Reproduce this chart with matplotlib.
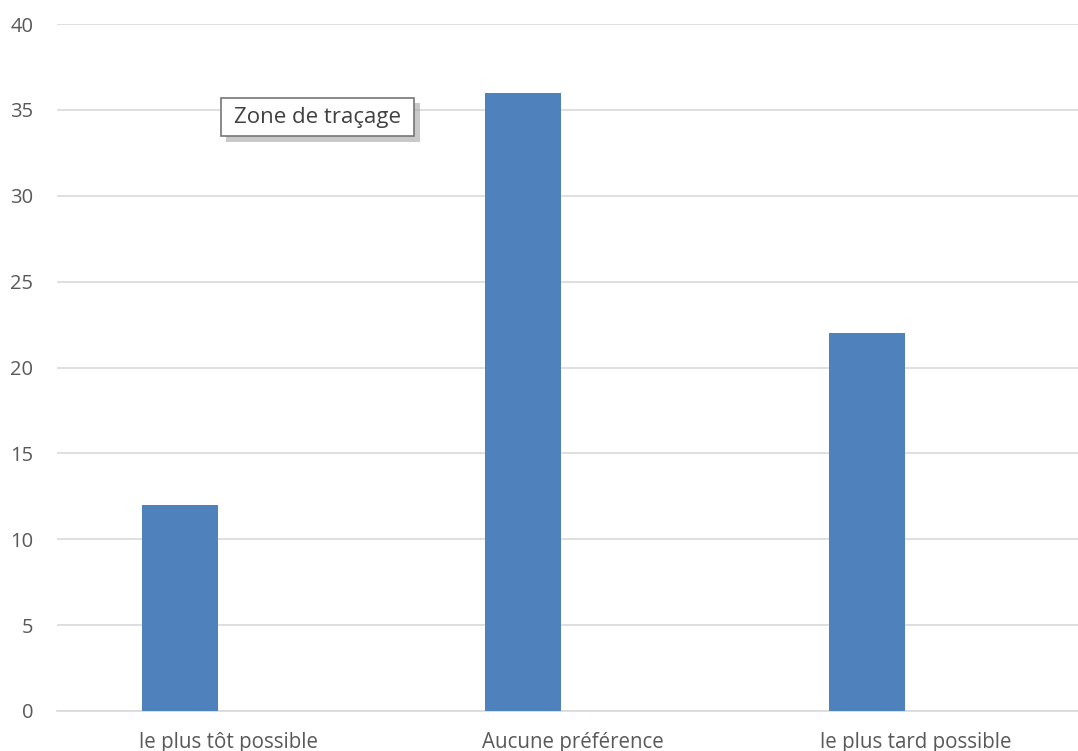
import matplotlib
matplotlib.use("Agg")
import matplotlib.pyplot as plt
from matplotlib.patches import Rectangle

categories = ["le plus tôt possible", "Aucune préférence", "le plus tard possible"]
values = [12, 36, 22]
y_ticks = [0, 5, 10, 15, 20, 25, 30, 35, 40]

W, H = 1078, 751
plt.rcParams["font.family"] = ["Open Sans", "DejaVu Sans"]

fig = plt.figure(figsize=(W / 100, H / 100), dpi=100)
fig.patch.set_facecolor("white")

# plot area in pixel units (runs slightly past the right edge of the canvas)
left_px, right_px, top_px, bottom_px = 57, 1088, 24, 711
ax = fig.add_axes([left_px / W, (H - bottom_px) / H,
                   (right_px - left_px) / W, (bottom_px - top_px) / H])

x = list(range(len(categories)))
bar_offset = -0.143  # first slot of a clustered group
ax.bar([i + bar_offset for i in x], values, width=0.221, color="#4F81BD", zorder=3)

ax.set_xlim(-0.5, 2.5)
ax.set_ylim(0, 40)
ax.set_yticks(y_ticks)
ax.set_yticklabels([str(t) for t in y_ticks])
ax.set_xticks(x)
ax.set_xticklabels(categories)

ax.grid(axis="y", color="#d9d9d9", linewidth=1.2, zorder=0)
ax.set_axisbelow(True)
for side in ("left", "right", "top"):
    ax.spines[side].set_visible(False)
ax.spines["bottom"].set_color("#d9d9d9")
ax.spines["bottom"].set_linewidth(1.2)

ax.tick_params(axis="both", length=0, labelsize=14.5, labelcolor="#595959")
ax.tick_params(axis="x", labelsize=14.8, pad=15)
ax.tick_params(axis="y", pad=17)

# "Zone de traçage" tooltip with drop shadow
bx0, bx1, by0, by1 = 221, 414, 98, 136
def fig_rect(x0, y0, x1, y1, **kw):
    return Rectangle((x0 / W, 1 - y1 / H), (x1 - x0) / W, (y1 - y0) / H,
                     transform=fig.transFigure, **kw)

fig.patches.append(fig_rect(bx0 + 5, by0 + 5, bx1 + 6, by1 + 6,
                            facecolor="#a6a6a6", edgecolor="none", alpha=0.6, zorder=10))
fig.patches.append(fig_rect(bx0, by0, bx1, by1, facecolor="white",
                            edgecolor="#767676", linewidth=1.2, zorder=11))
fig.text((bx0 + bx1) / 2 / W, 1 - (by0 + by1) / 2 / H, "Zone de traçage",
         ha="center", va="center", fontsize=16, color="#404040", zorder=12)

fig.savefig("out.png", dpi=100)
